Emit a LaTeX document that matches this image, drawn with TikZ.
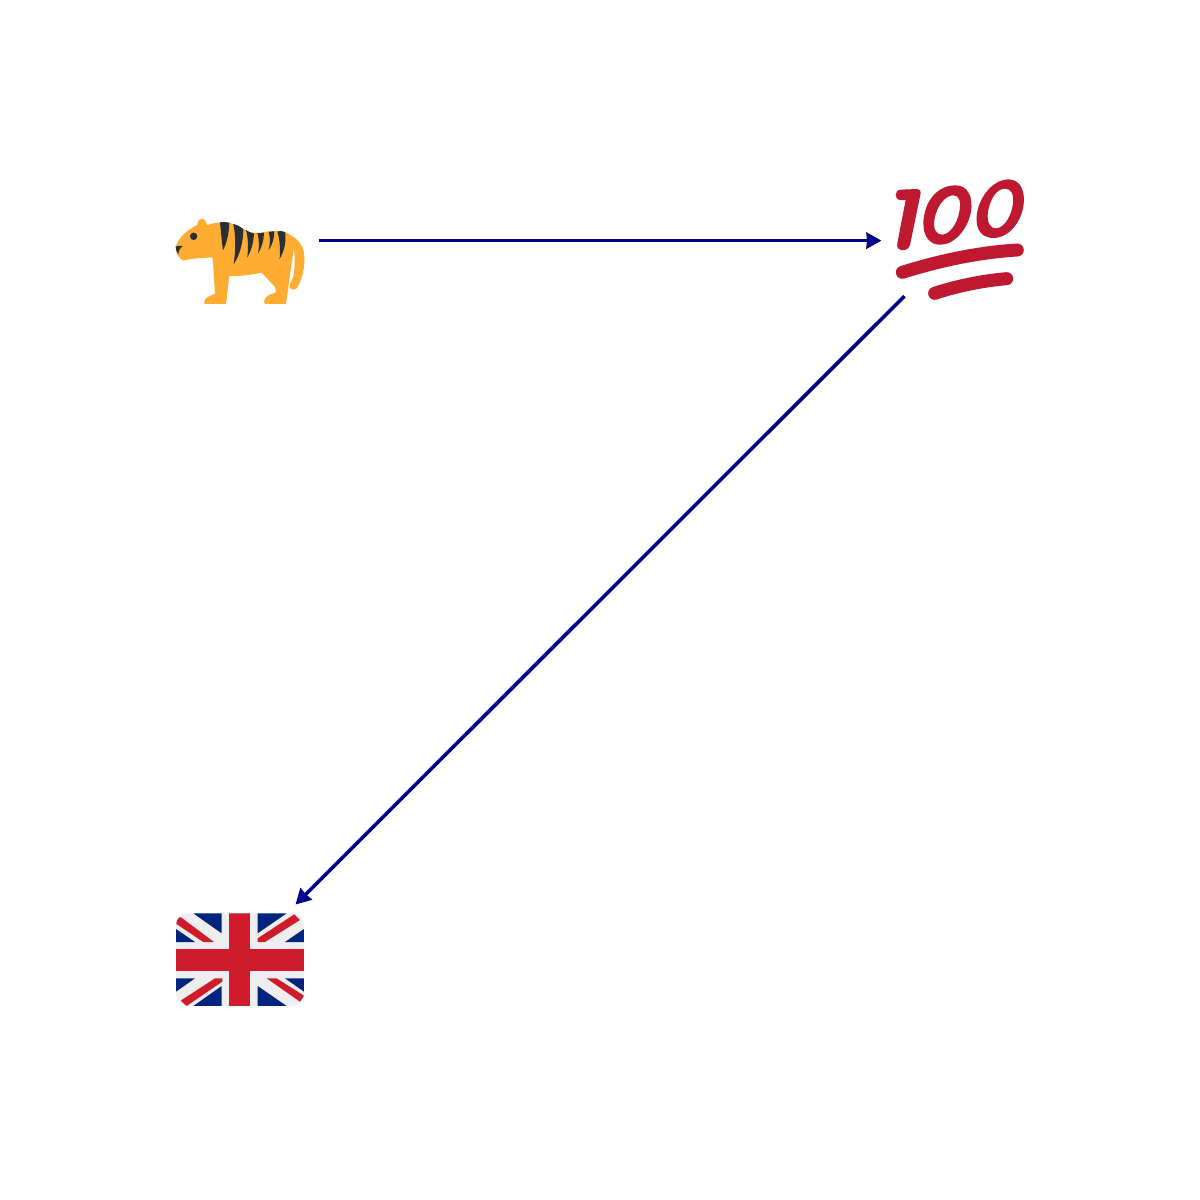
\documentclass[tikz,border=0pt]{standalone}
\usetikzlibrary{arrows.meta}
\definecolor{edgeblue}{HTML}{00008B}
\definecolor{tigerfur}{HTML}{FFAC33}
\definecolor{tigerdark}{HTML}{292F33}
\definecolor{hundredred}{HTML}{BE1931}
\definecolor{flagblue}{HTML}{00247D}
\definecolor{flagred}{HTML}{CF1B2B}
\definecolor{flagwhite}{HTML}{EEEEEE}
\tikzset{
  anchorspot/.style={circle,minimum size=157pt,inner sep=0pt,outer sep=0pt},
  edge/.style={edgeblue,line width=3.6pt,-{Stealth[length=15pt,width=16pt,inset=0.5pt]}},
  zoomtiger/.style={shift={(160,205)},x=0.3333pt,y=-0.3333pt},
  zoomhundred/.style={shift={(860,170)},x=0.3333pt,y=-0.3333pt},
  zoomflag/.style={shift={(165,880)},x=0.3333pt,y=-0.3333pt},
  stroke100/.style={hundredred,line cap=round,line join=round}
}
\begin{document}
\begin{tikzpicture}[x=1pt,y=-1pt]
\useasboundingbox (0,0) rectangle (1200,1200);
\fill[white] (0,0) rectangle (1200,1200);
\node[anchorspot] (tiger) at (240,240.6) {};
\node[anchorspot] (hundred) at (960,240.6) {};
\node[anchorspot] (flag) at (240,960) {};
% tiger
\begin{scope}[zoomtiger]
\fill[tigerfur] (112,60) .. controls (112,48) and (120,41) .. (126,41)
  .. controls (133,41) and (139,50) .. (141,60)
  .. controls (155,57) and (170,52) .. (182,52)
  .. controls (205,50) and (230,58) .. (250,72)
  .. controls (265,82) and (280,86) .. (300,83)
  .. controls (330,78) and (360,76) .. (378,82)
  .. controls (395,92) and (410,100) .. (420,115)
  .. controls (432,130) and (434,150) .. (433,170)
  .. controls (433,200) and (422,232) .. (410,250)
  .. controls (403,256) and (392,255) .. (389,246)
  .. controls (388,238) and (396,228) .. (400,215)
  .. controls (405,190) and (405,155) .. (402,130)
  -- (395,175) -- (378,297) -- (314,297)
  .. controls (310,288) and (315,278) .. (325,271)
  -- (348,262) -- (345,246) -- (305,203)
  .. controls (280,208) and (250,214) .. (208,213)
  -- (198,297) -- (133,297)
  .. controls (131,285) and (138,277) .. (150,273)
  -- (165,266) -- (158,158)
  .. controls (125,158) and (95,160) .. (70,167)
  .. controls (60,162) and (52,150) .. (50,145)
  -- (47,125)
  .. controls (55,100) and (80,75) .. (112,60) -- cycle;
\fill[tigerdark] (180,52) .. controls (190,50) and (200,51) .. (208,53) .. controls (207,85) and (200,115) .. (189,136) .. controls (185,110) and (183,80) .. (180,52) -- cycle;
\fill[tigerdark] (220,57) .. controls (232,60) and (242,65) .. (250,72) .. controls (250,110) and (240,150) .. (221,178) .. controls (227,135) and (228,95) .. (220,57) -- cycle;
\fill[tigerdark] (258,75) .. controls (265,80) and (273,84) .. (282,85) .. controls (281,110) and (274,138) .. (262,157) .. controls (265,130) and (265,100) .. (258,75) -- cycle;
\fill[tigerdark] (292,84) .. controls (298,85) and (305,84) .. (312,83) .. controls (312,105) and (305,128) .. (294,146) .. controls (298,125) and (298,105) .. (292,84) -- cycle;
\fill[tigerdark] (326,80) -- (343,79) .. controls (343,100) and (337,120) .. (326,135) .. controls (331,115) and (331,97) .. (326,80) -- cycle;
\fill[tigerdark] (352,79) .. controls (360,78) and (368,78) .. (375,81) .. controls (380,110) and (372,140) .. (359,162) .. controls (361,135) and (360,105) .. (352,79) -- cycle;
\fill[tigerdark] (101,94) circle[radius=3.7pt];
\fill[tigerdark] (47,125) .. controls (53,122) and (62,121) .. (68,123) .. controls (60,128) and (56,136) .. (55,148) .. controls (50,142) and (47,133) .. (47,125) -- cycle;
\end{scope}
% 100
\begin{scope}[zoomhundred]
\fill[hundredred] (122,59) -- (172,57) .. controls (180,57) and (183,63) .. (182,70)
  -- (150,225) .. controls (147,240) and (125,246) .. (115,236)
  .. controls (111,232) and (111,226) .. (112,220)
  -- (137,90) -- (122,90)
  .. controls (102,90) and (102,60) .. (122,59) -- cycle;
\fill[hundredred,even odd rule]
  (285,46) .. controls (325,44) and (340,85) .. (333,125)
  .. controls (323,180) and (280,228) .. (235,224)
  .. controls (195,220) and (182,175) .. (195,125)
  .. controls (208,75) and (245,46) .. (285,46) -- cycle
  (280,76) .. controls (255,76) and (230,110) .. (224,145)
  .. controls (218,175) and (228,194) .. (245,194)
  .. controls (270,194) and (292,160) .. (298,125)
  .. controls (304,95) and (298,76) .. (280,76) -- cycle;
\fill[hundredred,even odd rule]
  (445,28) .. controls (485,28) and (497,70) .. (490,110)
  .. controls (480,165) and (440,207) .. (395,204)
  .. controls (355,200) and (343,165) .. (353,120)
  .. controls (365,70) and (405,28) .. (445,28) -- cycle
  (435,56) .. controls (408,56) and (390,90) .. (384,125)
  .. controls (380,155) and (388,176) .. (410,175)
  .. controls (435,172) and (455,135) .. (459,100)
  .. controls (462,75) and (455,56) .. (435,56) -- cycle;
\draw[stroke100,line width=13pt] (127,307) .. controls (220,278) and (340,248) .. (472,240);
\draw[stroke100,line width=13pt] (224,370) .. controls (290,348) and (370,332) .. (440,326);
\end{scope}
% flag
\begin{scope}[zoomflag]
\begin{scope}
\clip[rounded corners=12pt] (33,100) rectangle (417,378);
\fill[flagwhite] (33,100) rectangle (417,378);
\fill[flagblue] (85,100) -- (170,100) -- (170,160) -- cycle;
\fill[flagblue] (33,147) -- (90,186) -- (33,186) -- cycle;
\fill[flagblue] (278,100) -- (365,100) -- (278,160) -- cycle;
\fill[flagblue] (417,147) -- (360,186) -- (417,186) -- cycle;
\fill[flagblue] (33,335) -- (90,295) -- (33,295) -- cycle;
\fill[flagblue] (85,378) -- (170,318) -- (170,378) -- cycle;
\fill[flagblue] (278,318) -- (278,378) -- (365,378) -- cycle;
\fill[flagblue] (360,295) -- (417,295) -- (417,335) -- cycle;
\fill[flagred] (193,100) rectangle (255,378);
\fill[flagred] (33,208) rectangle (417,272);
\fill[flagred] (48,112) -- (147,186) -- (115,186) -- (33,131) -- (33,112) -- cycle;
\fill[flagred] (388,103) -- (405,120) -- (300,186) -- (278,186) -- (278,175) -- cycle;
\fill[flagred] (150,295) -- (172,295) -- (172,305) -- (65,378) -- (47,362) -- cycle;
\fill[flagred] (305,295) -- (335,295) -- (417,347) -- (405,365) -- cycle;
\end{scope}
\end{scope}
% connectors
\draw[edge] (tiger) -- (hundred);
\draw[edge] (hundred) -- (flag);
\end{tikzpicture}
\end{document}
